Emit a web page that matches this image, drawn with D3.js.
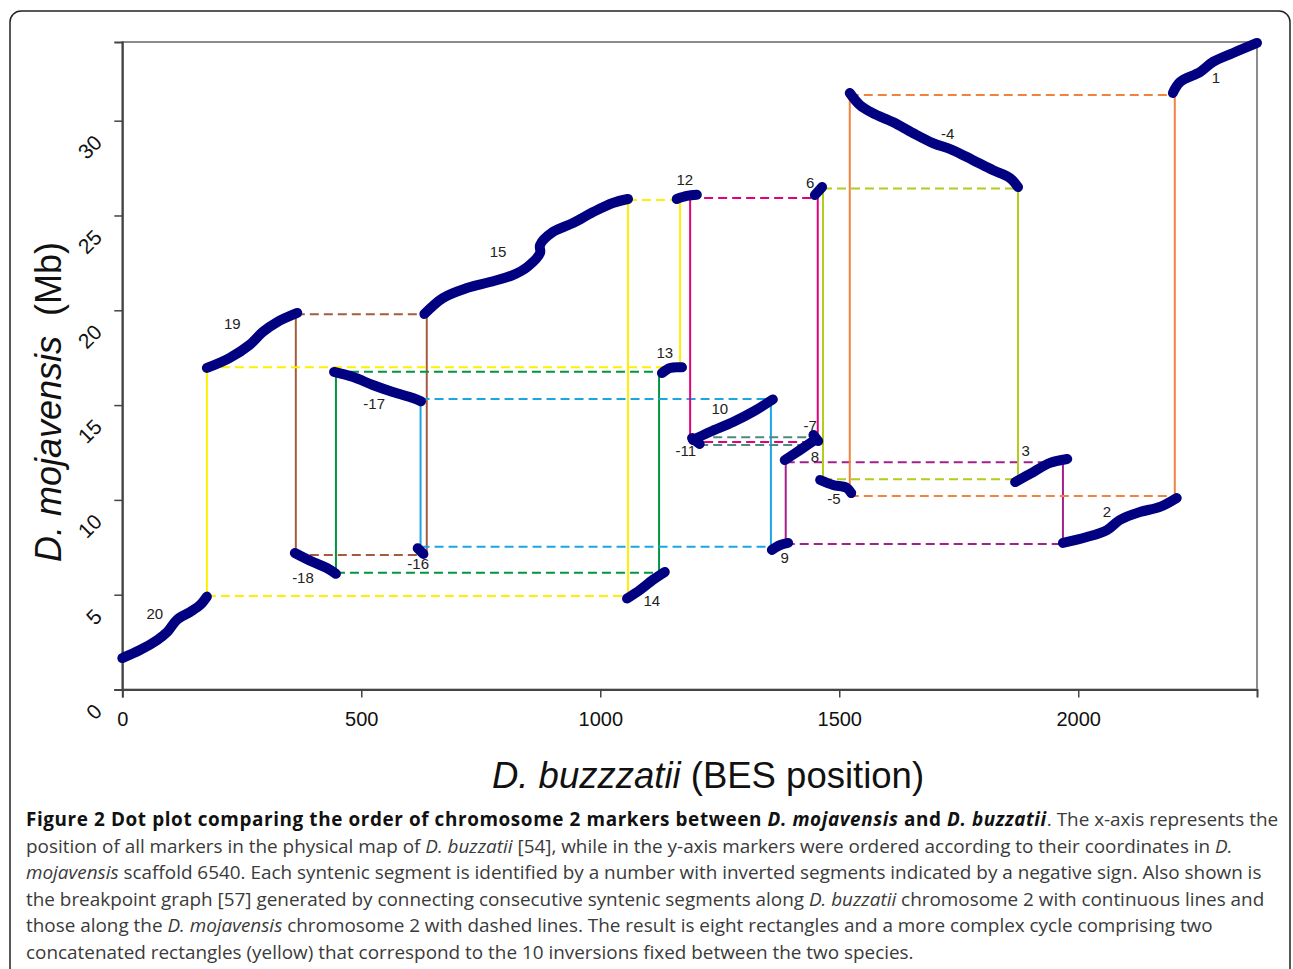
<!DOCTYPE html>
<html>
<head>
<meta charset="utf-8">
<script src="https://cdn.jsdelivr.net/npm/d3@7"></script>
<style>
  body { margin: 0; background: #fff; }
</style>
</head>
<body>
<div id="chart"></div>
<script>
// axis ticks
const xTicks = [0, 500, 1000, 1500, 2000];
const yTicks = [0, 5, 10, 15, 20, 25, 30];

// syntenic segments, [BES position, Mb]
const seg20 = [[0, 1.66], [37, 2.08], [73, 2.61], [94, 3.03], [114, 3.67], [142, 4.09], [163, 4.46], [177, 4.9]];
const seg19 = [[177, 16.96], [224, 17.48], [266, 18.17], [294, 18.86], [324, 19.38], [366, 19.86]];
const segM18 = [[361, 7.2], [399, 6.72], [428, 6.41], [447, 6.1]];
const segM17 = [[443, 16.75], [483, 16.48], [524, 16.06], [566, 15.69], [608, 15.37], [625, 15.2]];
const segM16 = [[618, 7.45], [630, 7.15]];
const seg15 = [[632, 19.8], [671, 20.65], [721, 21.17], [769, 21.49], [817, 21.86], [847, 22.28], [874, 23.02], [874, 23.44], [901, 24.13], [943, 24.6], [985, 25.18], [1026, 25.66], [1058, 25.87]];
const seg14 = [[1056, 4.8], [1083, 5.25], [1110, 5.78], [1135, 6.2]];
const seg13 = [[1129, 16.69], [1146, 16.96], [1171, 16.99]];
const seg12 = [[1160, 25.87], [1181, 26.03], [1202, 26.09]];
const seg10 = [[1194, 13.16], [1229, 13.58], [1278, 14.11], [1319, 14.64], [1361, 15.3]];
const segM11 = [[1192, 13.26], [1208, 12.95]];
const segM7 = [[1446, 13.42], [1456, 13.1]];
const seg8 = [[1386, 12.1], [1418, 12.63], [1449, 13.16]];
const seg9 = [[1359, 7.36], [1376, 7.62], [1393, 7.73]];
const segM5 = [[1460, 11.05], [1487, 10.79], [1516, 10.63], [1525, 10.36]];
const seg6 = [[1449, 26.08], [1464, 26.5]];
const segM4 = [[1522, 31.46], [1543, 30.83], [1570, 30.4], [1612, 29.93], [1654, 29.35], [1696, 28.82], [1737, 28.45], [1779, 27.93], [1821, 27.4], [1857, 26.98], [1874, 26.5]];
const seg3 = [[1868, 10.94], [1906, 11.47], [1941, 11.95], [1977, 12.16]];
const seg2 = [[1968, 7.73], [2018, 8.04], [2060, 8.41], [2087, 8.94], [2129, 9.36], [2171, 9.63], [2206, 10.1]];
const seg1 = [[2198, 31.46], [2213, 32.04], [2255, 32.57], [2282, 33.1], [2324, 33.57], [2374, 34.1]];

const segments = [seg20, seg19, segM18, segM17, segM16, seg15, seg14, seg13, seg12, seg10,
	segM11, segM7, seg8, seg9, segM5, seg6, segM4, seg3, seg2, seg1];

// segment numbers and where they sit (data units)
const segLabels = ["20", "19", "-18", "-17", "-16", "15", "14", "13", "12", "10",
	"-11", "-7", "8", "9", "-5", "6", "-4", "3", "2", "1"];
const labelX = [68, 230, 378, 527, 619, 786, 1108, 1135, 1177, 1250,
	1179, 1439, 1449, 1386, 1489, 1439, 1727, 1890, 2060, 2288];
const labelY = [3.98, 19.28, 5.88, 15.06, 6.62, 23.07, 4.67, 17.75, 26.87, 14.79,
	12.6, 13.9, 12.26, 6.94, 10.05, 26.71, 29.3, 12.58, 9.36, 32.25];

// breakpoint graph cycles: vertical sides solid, horizontal sides dashed
const cycles = ["brown", "green", "blue", "magenta", "teal", "purple", "lime", "orange", "yellow", "yellow"];
const cycleX0 = [363, 447, 624, 1188, 1207, 1388, 1466, 1522, 177, 1058];
const cycleX1 = [637, 1123, 1357, 1455, 1449, 1968, 1874, 2202, 1058, 1167];
const cycleY0 = [7.09, 6.16, 7.53, 13.05, 12.9, 7.67, 11.09, 10.2, 4.93, 16.99];
const cycleY1 = [19.79, 16.76, 15.32, 25.92, 13.3, 11.98, 26.42, 31.36, 16.99, 25.82];

// caption text runs: b = bold, bi = bold italic, i = italic, n = normal
const captionLines = [
	[["Figure 2 Dot plot comparing the order of chromosome 2 markers between ", "b"], ["D. mojavensis", "bi"], [" and ", "b"], ["D. buzzatii", "bi"], [". The x-axis represents the", "n"]],
	[["position of all markers in the physical map of ", "n"], ["D. buzzatii", "i"], [" [54], while in the y-axis markers were ordered according to their coordinates in ", "n"], ["D.", "i"]],
	[["mojavensis", "i"], [" scaffold 6540. Each syntenic segment is identified by a number with inverted segments indicated by a negative sign. Also shown is", "n"]],
	[["the breakpoint graph [57] generated by connecting consecutive syntenic segments along ", "n"], ["D. buzzatii", "i"], [" chromosome 2 with continuous lines and", "n"]],
	[["those along the ", "n"], ["D. mojavensis", "i"], [" chromosome 2 with dashed lines. The result is eight rectangles and a more complex cycle comprising two", "n"]],
	[["concatenated rectangles (yellow) that correspond to the 10 inversions fixed between the two species.", "n"]],
];

const width = 1293;
const height = 969;

const plot = { left: 122.3, right: 1257, top: 42, bottom: 689.5 };

const svg = d3
	.select("#chart")
	.append("svg")
	.attr("width", width)
	.attr("height", height)
	.style("display", "block");

// rounded figure border
svg
	.append("rect")
	.attr("x", 10)
	.attr("y", 11)
	.attr("width", 1280)
	.attr("height", 1000)
	.attr("rx", 11)
	.attr("fill", "none")
	.attr("stroke", "#222")
	.attr("stroke-width", 1.5);

const xScale = d3.scaleLinear().domain([0, 2374]).range([plot.left, plot.right]);
const yScale = d3.scaleLinear().domain([0, 34.15]).range([plot.bottom, plot.top]);

const color = d3
	.scaleOrdinal()
	.domain(["brown", "green", "blue", "magenta", "teal", "purple", "lime", "orange", "yellow"])
	.range(["#a65b3f", "#00963f", "#1ba6e2", "#e4007c", "#4a8c80", "#a3208c", "#b4cc1c", "#f2833f", "#fff000"]);

// plot frame (top and right in grey)
svg
	.append("rect")
	.attr("x", plot.left)
	.attr("y", plot.top)
	.attr("width", plot.right - plot.left)
	.attr("height", plot.bottom - plot.top)
	.attr("fill", "none")
	.attr("stroke", "#8c8c8c")
	.attr("stroke-width", 2);

// axes
const xAxis = svg
	.append("g")
	.attr("transform", `translate(0, ${plot.bottom})`)
	.call(d3.axisBottom(xScale).tickValues(xTicks).tickSize(8).tickFormat(d3.format("d")));

const yAxis = svg
	.append("g")
	.attr("transform", `translate(${plot.left}, 0)`)
	.call(d3.axisLeft(yScale).tickValues(yTicks).tickSize(8).tickFormat(""));

[xAxis, yAxis].forEach((ax) => {
	ax.select(".domain").attr("stroke", "#444").attr("stroke-width", 2);
	ax.selectAll(".tick line").attr("stroke", "#444").attr("stroke-width", 1.5);
});

xAxis
	.selectAll(".tick text")
	.attr("y", 22)
	.attr("dy", "0.7em")
	.style("font-family", "'Liberation Sans', Arial, sans-serif")
	.style("font-size", "20px")
	.attr("fill", "#111");

// rotated y tick labels
svg
	.append("g")
	.selectAll("text")
	.data(yTicks)
	.enter()
	.append("text")
	.attr("transform", (d) => `translate(98, ${yScale(d) + 18}) rotate(-45)`)
	.attr("text-anchor", "end")
	.attr("dy", "0.35em")
	.style("font-family", "'Liberation Sans', Arial, sans-serif")
	.style("font-size", "21px")
	.attr("fill", "#111")
	.text((d) => d);

// breakpoint graph lines
const cycleIdx = d3.range(cycles.length);

const cycleG = svg.append("g").attr("fill", "none").attr("stroke-width", 2);

cycleIdx.forEach((i) => {
	const c = color(cycles[i]);
	[cycleY0[i], cycleY1[i]].forEach((y) => {
		cycleG
			.append("line")
			.attr("x1", xScale(cycleX0[i]))
			.attr("x2", xScale(cycleX1[i]))
			.attr("y1", yScale(y))
			.attr("y2", yScale(y))
			.attr("stroke", c)
			.attr("stroke-dasharray", "9,5");
	});
	[cycleX0[i], cycleX1[i]].forEach((x) => {
		cycleG
			.append("line")
			.attr("x1", xScale(x))
			.attr("x2", xScale(x))
			.attr("y1", yScale(cycleY0[i]))
			.attr("y2", yScale(cycleY1[i]))
			.attr("stroke", c);
	});
});

// syntenic segments
const line = d3
	.line()
	.x((d) => xScale(d[0]))
	.y((d) => yScale(d[1]))
	.curve(d3.curveCatmullRom);

svg
	.append("g")
	.selectAll("path")
	.data(segments)
	.enter()
	.append("path")
	.attr("d", line)
	.attr("fill", "none")
	.attr("stroke", "#000080")
	.attr("stroke-width", 10)
	.attr("stroke-linecap", "round")
	.attr("stroke-linejoin", "round");

// segment numbers
svg
	.append("g")
	.selectAll("text")
	.data(segLabels)
	.enter()
	.append("text")
	.attr("x", (d, i) => xScale(labelX[i]))
	.attr("y", (d, i) => yScale(labelY[i]))
	.attr("dy", "0.35em")
	.attr("text-anchor", "middle")
	.style("font-family", "'Liberation Sans', Arial, sans-serif")
	.style("font-size", "15px")
	.attr("fill", "#222")
	.text((d) => d);

// axis titles
const yTitle = svg
	.append("text")
	.attr("transform", "translate(61, 402) rotate(-90)")
	.attr("text-anchor", "middle")
	.style("font-family", "'Liberation Sans', Arial, sans-serif")
	.style("font-size", "36px")
	.attr("fill", "#111");
yTitle.append("tspan").style("font-style", "italic").text("D. mojavensis");
yTitle.append("tspan").text("\u00a0 (Mb)");

const xTitle = svg
	.append("text")
	.attr("x", 708)
	.attr("y", 788)
	.attr("text-anchor", "middle")
	.style("font-family", "'Liberation Sans', Arial, sans-serif")
	.style("font-size", "36.5px")
	.attr("fill", "#111");
xTitle.append("tspan").style("font-style", "italic").text("D. buzzzatii");
xTitle.append("tspan").text(" (BES position)");

// caption
const caption = svg
	.append("g")
	.style("font-family", "'Open Sans', 'Noto Sans', sans-serif")
	.style("font-size", "18.9px");

captionLines.forEach((runs, i) => {
	const t = caption
		.append("text")
		.attr("x", 26)
		.attr("y", 826 + i * 26.6)
		.attr("fill", "#3a3a3a");
	runs.forEach(([txt, st]) => {
		t.append("tspan")
			.style("font-weight", st.startsWith("b") ? "bold" : "normal")
			.style("font-style", st.endsWith("i") ? "italic" : "normal")
			.style("letter-spacing", st.startsWith("b") ? "0.6px" : "0px")
			.attr("fill", st.startsWith("b") ? "#111" : "#3a3a3a")
			.text(txt);
	});
});
</script>
</body>
</html>
